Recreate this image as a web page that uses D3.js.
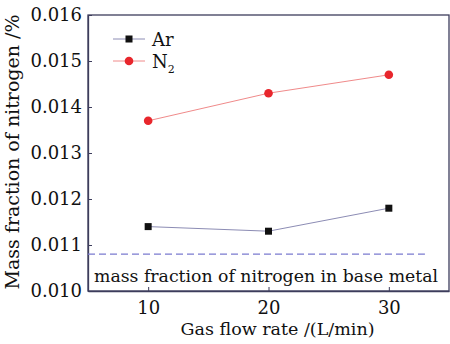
<!DOCTYPE html>
<html>
<head>
<meta charset="utf-8">
<script src="https://cdn.jsdelivr.net/npm/d3@7"></script>
<style>
  body { margin: 0; background: #fff; }
  text { font-family: "DejaVu Serif", serif; }
</style>
</head>
<body>
<div id="chart"></div>
<script>
const flowRates = [10, 20, 30];
const arValues = [0.0114, 0.0113, 0.0118];
const n2Values = [0.0137, 0.0143, 0.0147];
const baseMetal = 0.0108;
const yTicks = [0.010, 0.011, 0.012, 0.013, 0.014, 0.015, 0.016];
const xTicks = [10, 20, 30];

const margin = { top: 15, right: 1, bottom: 53, left: 88 },
    width = 450 - margin.left - margin.right,
    height = 344 - margin.top - margin.bottom;

const axisColor = '#3d3d5c';
const textColor = '#111';

const svg = d3.select('#chart').append('svg')
    .attr('width', 450)
    .attr('height', 344)
    .append('g')
    .attr('transform', 'translate(' + margin.left + ',' + margin.top + ')');

const x = d3.scaleLinear().domain([5, 35]).range([0, width]);
const y = d3.scaleLinear().domain([0.010, 0.016]).range([height, 0]);

// frame
svg.append('rect')
    .attr('width', width)
    .attr('height', height)
    .attr('fill', 'none')
    .attr('stroke', axisColor)
    .attr('stroke-width', 1.3);

const yAxis = d3.axisLeft(y).tickValues(yTicks).tickFormat(d3.format('.3f'))
    .tickSizeInner(-4).tickSizeOuter(0).tickPadding(6);
const xAxis = d3.axisBottom(x).tickValues(xTicks)
    .tickSizeInner(-4).tickSizeOuter(0).tickPadding(10);

const gy = svg.append('g').call(yAxis);
const gx = svg.append('g').attr('transform', 'translate(0,' + height + ')').call(xAxis);

[gx, gy].forEach(g => {
    g.select('.domain').attr('stroke', axisColor).attr('stroke-width', 1.3);
    g.selectAll('.tick line').attr('stroke', axisColor);
    g.selectAll('.tick text').attr('fill', textColor).style('font-size', '18px')
        .style('font-family', '"DejaVu Serif", serif');
});

// base metal dashed line
svg.append('line')
    .attr('x1', x(5)).attr('x2', x(33))
    .attr('y1', y(baseMetal)).attr('y2', y(baseMetal))
    .attr('stroke', '#7b7bd0')
    .attr('stroke-width', 1.3)
    .attr('stroke-dasharray', '7,4');

svg.append('text')
    .attr('x', 6)
    .attr('y', height - 9)
    .attr('fill', textColor)
    .style('font-size', '17.3px')
    .text('mass fraction of nitrogen in base metal');

const line = d3.line().x(d => x(d[0])).y(d => y(d[1]));

const arData = flowRates.map((f, i) => [f, arValues[i]]);
const n2Data = flowRates.map((f, i) => [f, n2Values[i]]);

svg.append('path').datum(arData).attr('d', line)
    .attr('fill', 'none').attr('stroke', '#8c8cb4').attr('stroke-width', 1);
svg.selectAll('.ar').data(arData).enter().append('rect')
    .attr('x', d => x(d[0]) - 3.5).attr('y', d => y(d[1]) - 3.5)
    .attr('width', 7).attr('height', 7).attr('fill', '#111');

svg.append('path').datum(n2Data).attr('d', line)
    .attr('fill', 'none').attr('stroke', '#f08a8a').attr('stroke-width', 1);
svg.selectAll('.n2').data(n2Data).enter().append('circle')
    .attr('cx', d => x(d[0])).attr('cy', d => y(d[1]))
    .attr('r', 4.3).attr('fill', '#e8262c');

// legend
const legend = svg.append('g').attr('transform', 'translate(25,24)');
legend.append('line').attr('x1', 0).attr('x2', 32).attr('y1', 0).attr('y2', 0)
    .attr('stroke', '#8c8cb4');
legend.append('rect').attr('x', 12.5).attr('y', -3.5).attr('width', 7).attr('height', 7).attr('fill', '#111');
legend.append('text').attr('x', 39).attr('y', 6.5).style('font-size', '18px').attr('fill', textColor).text('Ar');
legend.append('line').attr('x1', 0).attr('x2', 32).attr('y1', 22).attr('y2', 22)
    .attr('stroke', '#f08a8a');
legend.append('circle').attr('cx', 16).attr('cy', 22).attr('r', 4.3).attr('fill', '#e8262c');
const n2t = legend.append('text').attr('x', 39).attr('y', 28.5).style('font-size', '18px').attr('fill', textColor);
n2t.append('tspan').text('N');
n2t.append('tspan').attr('dy', 5).style('font-size', '11px').text('2');

// axis titles
svg.append('text')
    .attr('x', width / 2 + 9)
    .attr('y', height + 44)
    .attr('text-anchor', 'middle')
    .attr('fill', textColor)
    .style('font-size', '17.5px')
    .text('Gas flow rate /(L/min)');

svg.append('text')
    .attr('transform', 'rotate(-90)')
    .attr('x', -(height / 2) + 1)
    .attr('y', -69)
    .attr('text-anchor', 'middle')
    .attr('fill', textColor)
    .style('font-size', '19px')
    .text('Mass fraction of nitrogen /%');
</script>
</body>
</html>
